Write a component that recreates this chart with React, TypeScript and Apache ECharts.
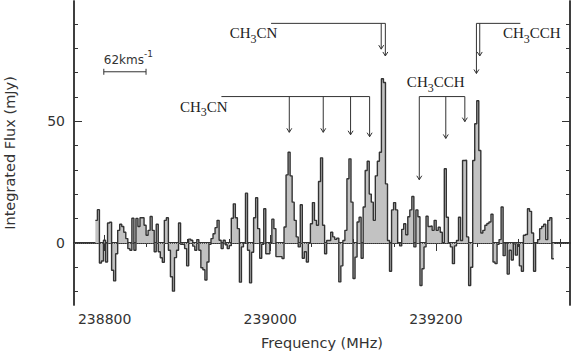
import React, { useEffect, useRef } from "react";
import * as echarts from "echarts";

// ---- spectrum (channel grid + flux per channel, mJy) ----
const FREQ_START = 238788.8; // MHz, left edge of first channel
const CHANNEL_MHZ = 2.45;
const FLUX = [
  9.3, 13.7, -8.2, -7.4, 1.1, -7.8, 8.2, 8.5, -11.2, -15.6,
  -4.4, 5.2, 7.7, 6.8, 4.4, 1.8, -2.3, -3.0, 10.2, -3.0,
  10.1, 6.8, 10.4, 10.4, 7.3, 3.2, 5.2, 10.9, 5.2, -3.6,
  7.7, -3.6, -6.1, -7.9, 9.3, 10.4, -3.0, -13.9, -19.8, -6.0,
  -3.0, 8.2, -0.5, -0.7, -2.3, -9.4, 1.6, 1.1, -1.3, -3.0,
  1.4, -3.0, -10.2, -11.0, -15.2, -7.8, -0.5, 1.8, 3.8, 6.3,
  9.3, 1.1, -2.3, 1.1, -0.7, -2.3, -1.1, 10.2, 16.1, 10.4,
  5.9, -16.1, -1.6, 0.0, 20.5, -3.0, -16.4, -3.8, 10.4, 18.6,
  5.9, -6.3, -0.5, 14.1, -4.4, -4.4, 0.0, 9.8, 5.9, -5.6,
  -5.6, -5.6, -6.4, 6.6, 28.0, 37.3, 27.6, 16.8, 9.3, 2.5,
  -1.6,
  15.7, -6.3, -3.6, -7.8, 0.0, 7.9, 16.6, 9.3, 7.3, 25.3,
  35.0, 7.3, -4.4, 1.0, 1.0, 4.4, 2.5, 1.5, 2.0, -16.0,
  -9.4, 1.0, 5.2, 26.4, 34.6, 16.8, -14.6, -5.8, 8.6, 10.6,
  -6.3, 14.8, 29.8, 33.6, 20.1, 16.8, 9.3, 27.6, 33.6, 37.3,
  67.5, 66.0, 24.3, 1.0, -11.6, 13.6, 16.6, 13.6, 0.0, -1.2,
  5.6, 7.9, 3.4, 10.8, 13.6, 19.1, -1.6, 13.6, 10.8, -17.5,
  -10.6, -1.6, 11.0, 6.8, 7.0, 5.2, 9.3, 5.2, 6.5, 4.4,
  0.0, 30.5, 10.6, 0.0, -1.6, -8.5, -1.2, 1.0, 10.6, 1.0,
  33.9, 34.0, 2.5, -17.5, -10.0, 33.9, 49.0, 58.5, 38.0, 4.1,
  5.2, 7.3, 8.0, 8.6, 11.8, -7.8, -8.5, -0.5, 1.4, 14.8,
  -5.2, 0.0, -12.8, -3.0, -7.0, -0.3, -5.0, -0.5, -9.4, -11.6,
  3.2, 3.5, 14.1, 13.0, 4.1, -11.6, 0.0, 1.4, 5.9, 6.8,
  7.7, 1.4, 9.3, 10.4, -6.5,
];

// ---- axes ----
const X_MIN = 238763;
const X_MAX = 239362;
const Y_MIN = -25.5;
const Y_MAX = 99.5;
const X_MAJOR = [238800, 239000, 239200];
const X_MINOR = [238800, 238850, 238900, 238950, 239000, 239050, 239100, 239150, 239200, 239250, 239300, 239350];
const Y_MAJOR = [0, 50];
const Y_MINOR = [-20, -10, 0, 10, 20, 30, 40, 50, 60, 70, 80, 90];

// ---- line identifications ----
const LADDER_MOLECULE = [["CH", "3", "CN"], ["CH", "3", "CN"], ["CH", "3", "CCH"], ["CH", "3", "CCH"]];
const LADDER_BAR_FLUX = [60.2, 90.3, 60.2, 90.3];
const LADDER_BAR_START = [238941, 239001, 239180, 239249];
const LADDER_BAR_END = [239120, 239139, 239235, 239302];
const LADDER_LINES = [
  [239023, 239064, 239097, 239120],
  [239134, 239139],
  [239180, 239212, 239235],
  [239249, 239253],
];
const LADDER_TIPS = [
  [45.5, 45.5, 44.5, 43.7],
  [79.7, 76.9],
  [26.0, 43.0, 49.9],
  [69.7, 76.9],
];
const LABEL_FREQ = [238891, 238951, 239165, 239281];
const LABEL_FLUX = [59.2, 89.3, 69.1, 89.3];

// ---- velocity scale bar ----
const VELO_TEXT = ["62kms", "-1"];
const VELO_BAR = [238799, 238850];
const VELO_BAR_FLUX = 70.4;
const VELO_LABEL = [238799, 79.5];

const INK = "#333";
const SANS = "'DejaVu Sans', Verdana, sans-serif";
const SERIF = "'Liberation Serif', 'DejaVu Serif', serif";

export default function App() {
  const ref = useRef<HTMLDivElement>(null);

  useEffect(() => {
    if (!ref.current) return;
    document.body.style.margin = "0";
    const chart = echarts.init(ref.current, undefined, { renderer: "svg" });

    const stepData: number[][] = FLUX.map((v, i) => [FREQ_START + i * CHANNEL_MHZ, v]);
    stepData.push([FREQ_START + FLUX.length * CHANNEL_MHZ, FLUX[FLUX.length - 1]]);

    const tickLine = { color: INK, width: 1 };
    const xBase = {
      type: "value",
      min: X_MIN,
      max: X_MAX,
      axisLine: { show: true, lineStyle: { color: INK, width: 1.5 } },
      splitLine: { show: false },
    };
    const yBase = {
      type: "value",
      min: Y_MIN,
      max: Y_MAX,
      axisLine: { show: true, lineStyle: { color: INK, width: 1.5 } },
      splitLine: { show: false },
    };
    const labelFont = { fontFamily: SANS, fontSize: 14, color: INK, formatter: (v: number) => String(v) };

    const option: any = {
      animation: false,
      backgroundColor: "#fff",
      grid: { left: 74, right: 5, top: 1, bottom: 48, containLabel: false, outerBoundsMode: "none" },
      xAxis: [
        {
          ...xBase,
          position: "bottom",
          axisTick: { show: true, inside: true, length: 8, customValues: X_MAJOR, lineStyle: tickLine },
          axisLabel: { show: true, customValues: X_MAJOR, margin: 7, ...labelFont },
          name: "Frequency (MHz)",
          nameLocation: "middle",
          nameGap: 30,
          nameTextStyle: { fontFamily: SANS, fontSize: 14.5, color: INK },
        },
        {
          ...xBase,
          position: "bottom",
          axisTick: { show: true, inside: true, length: 4, customValues: X_MINOR, lineStyle: tickLine },
          axisLabel: { show: false },
        },
        {
          ...xBase,
          position: "top",
          axisTick: { show: true, inside: true, length: 8, customValues: X_MAJOR, lineStyle: tickLine },
          axisLabel: { show: false },
        },
        {
          ...xBase,
          position: "top",
          axisTick: { show: true, inside: true, length: 4, customValues: X_MINOR, lineStyle: tickLine },
          axisLabel: { show: false },
        },
      ],
      yAxis: [
        {
          ...yBase,
          position: "left",
          axisTick: { show: true, inside: true, length: 8, customValues: Y_MAJOR, lineStyle: tickLine },
          axisLabel: { show: true, customValues: Y_MAJOR, margin: 9, ...labelFont },
          name: "Integrated Flux (mJy)",
          nameLocation: "middle",
          nameGap: 57,
          nameTextStyle: { fontFamily: SANS, fontSize: 14.5, color: INK },
        },
        {
          ...yBase,
          position: "left",
          axisTick: { show: true, inside: true, length: 4, customValues: Y_MINOR, lineStyle: tickLine },
          axisLabel: { show: false },
        },
        {
          ...yBase,
          position: "right",
          axisTick: { show: true, inside: true, length: 8, customValues: Y_MAJOR, lineStyle: tickLine },
          axisLabel: { show: false },
        },
        {
          ...yBase,
          position: "right",
          axisTick: { show: true, inside: true, length: 4, customValues: Y_MINOR, lineStyle: tickLine },
          axisLabel: { show: false },
        },
      ],
      series: [
        {
          type: "line",
          xAxisIndex: 0,
          yAxisIndex: 0,
          step: "end",
          data: stepData,
          showSymbol: false,
          symbol: "none",
          lineStyle: { color: INK, width: 1.4 },
          areaStyle: { color: "#c2c2c2", opacity: 1, origin: 0 },
          markLine: {
            silent: true,
            symbol: "none",
            label: { show: false },
            lineStyle: { type: "dotted", color: "#555", width: 1 },
            data: [{ yAxis: 0 }],
          },
          z: 2,
        },
        {
          type: "custom",
          coordinateSystem: "cartesian2d",
          xAxisIndex: 0,
          yAxisIndex: 0,
          z: 5,
          silent: true,
          data: LADDER_BAR_START.map((f, i) => [f, LADDER_BAR_FLUX[i]]),
          renderItem: (params: any, api: any) => {
            const i = params.dataIndex;
            const st = { stroke: INK, lineWidth: 1, fill: "none" };
            const a = api.coord([LADDER_BAR_START[i], LADDER_BAR_FLUX[i]]);
            const b = api.coord([LADDER_BAR_END[i], LADDER_BAR_FLUX[i]]);
            const children: any[] = [
              { type: "line", shape: { x1: a[0], y1: a[1], x2: b[0], y2: b[1] }, style: st },
            ];
            LADDER_LINES[i].forEach((f, j) => {
              const top = api.coord([f, LADDER_BAR_FLUX[i]]);
              const tip = api.coord([f, LADDER_TIPS[i][j]]);
              children.push({ type: "line", shape: { x1: top[0], y1: top[1], x2: tip[0], y2: tip[1] }, style: st });
              children.push({
                type: "polyline",
                shape: { points: [[tip[0] - 2.5, tip[1] - 4], [tip[0], tip[1]], [tip[0] + 2.5, tip[1] - 4]] },
                style: st,
              });
            });
            const lp = api.coord([LABEL_FREQ[i], LABEL_FLUX[i]]);
            const m = LADDER_MOLECULE[i];
            children.push({
              type: "text",
              x: lp[0],
              y: lp[1],
              style: {
                text: `{n|${m[0]}}{s|${m[1]}}{n|${m[2]}}`,
                align: "left",
                verticalAlign: "top",
                fill: "#222",
                rich: {
                  n: { fontFamily: SERIF, fontSize: 15, lineHeight: 18, verticalAlign: "top", fill: "#222" },
                  s: { fontFamily: SERIF, fontSize: 12, lineHeight: 12, padding: [7, 0, 0, 0], verticalAlign: "top", fill: "#222" },
                },
              },
            });
            return { type: "group", children };
          },
        },
        {
          type: "custom",
          coordinateSystem: "cartesian2d",
          xAxisIndex: 0,
          yAxisIndex: 0,
          z: 5,
          silent: true,
          data: [[VELO_BAR[0], VELO_BAR_FLUX]],
          renderItem: (_params: any, api: any) => {
            const st = { stroke: INK, lineWidth: 1, fill: "none" };
            const a = api.coord([VELO_BAR[0], VELO_BAR_FLUX]);
            const b = api.coord([VELO_BAR[1], VELO_BAR_FLUX]);
            const lp = api.coord(VELO_LABEL);
            return {
              type: "group",
              children: [
                { type: "line", shape: { x1: a[0], y1: a[1], x2: b[0], y2: b[1] }, style: st },
                { type: "line", shape: { x1: a[0], y1: a[1] - 3, x2: a[0], y2: a[1] + 3 }, style: st },
                { type: "line", shape: { x1: b[0], y1: b[1] - 3, x2: b[0], y2: b[1] + 3 }, style: st },
                {
                  type: "text",
                  x: lp[0],
                  y: lp[1],
                  style: {
                    text: `{n|${VELO_TEXT[0]}}{p|${VELO_TEXT[1]}}`,
                    align: "left",
                    verticalAlign: "top",
                    fill: INK,
                    rich: {
                      n: { fontFamily: SANS, fontSize: 12, lineHeight: 12, padding: [4, 0, 0, 0], verticalAlign: "top", fill: INK },
                      p: { fontFamily: SANS, fontSize: 9, lineHeight: 9, verticalAlign: "top", fill: INK },
                    },
                  },
                },
              ],
            };
          },
        },
      ],
    };

    chart.setOption(option);
    return () => chart.dispose();
  }, []);

  return <div ref={ref} style={{ position: "absolute", left: 0, top: 0, width: 575, height: 353 }} />;
}
